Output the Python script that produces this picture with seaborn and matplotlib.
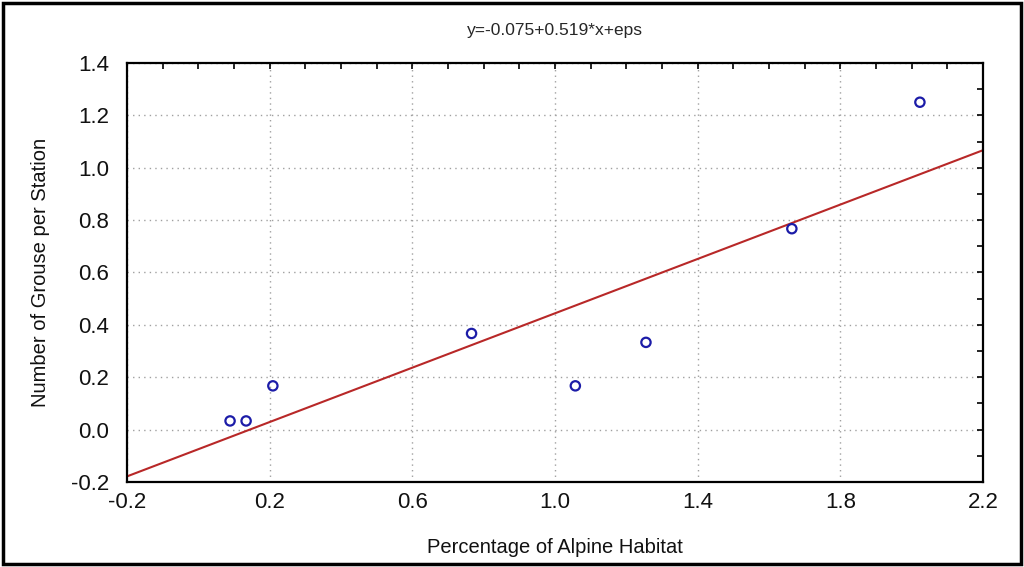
import numpy as np
import pandas as pd
import matplotlib
matplotlib.use("Agg")
import matplotlib.pyplot as plt
from matplotlib.ticker import MultipleLocator
from matplotlib.patches import Rectangle
import seaborn as sns

# Data
alpine_pct = [0.089, 0.134, 0.209, 0.766, 1.057, 1.255, 1.664, 2.023]
grouse_per_station = [0.033, 0.033, 0.167, 0.367, 0.167, 0.333, 0.767, 1.25]
intercept = -0.075
slope = 0.519
x_ticks = [-0.2, 0.2, 0.6, 1.0, 1.4, 1.8, 2.2]
y_ticks = [-0.2, 0.0, 0.2, 0.4, 0.6, 0.8, 1.0, 1.2, 1.4]
title = "y=-0.075+0.519*x+eps"
x_label = "Percentage of Alpine Habitat"
y_label = "Number of Grouse per Station"

sns.set_style("white")
plt.rcParams['font.family'] = ['Liberation Sans', 'DejaVu Sans']

df = pd.DataFrame({"x": alpine_pct, "y": grouse_per_station})
line_x = np.linspace(x_ticks[0], x_ticks[-1], 200)
line_df = pd.DataFrame({"x": line_x, "y": intercept + slope * line_x})

fig = plt.figure(figsize=(10.24, 5.67), dpi=100)
ax = fig.add_axes([0.124, 0.150, 0.836, 0.739])

sns.lineplot(data=line_df, x="x", y="y", ax=ax, color="#b82828", linewidth=1.5)
sns.scatterplot(data=df, x="x", y="y", ax=ax, marker="o", s=45,
                facecolor="none", edgecolor="#1c1ca8", linewidth=1.6, zorder=5)

ax.set_xlim(x_ticks[0], x_ticks[-1])
ax.set_ylim(y_ticks[0], y_ticks[-1])
ax.set_xticks(x_ticks)
ax.set_yticks(y_ticks)
ax.set_xticklabels([f"{v:.1f}" for v in x_ticks])
ax.set_yticklabels([f"{v:.1f}" for v in y_ticks])
ax.xaxis.set_minor_locator(MultipleLocator(0.1))
ax.yaxis.set_minor_locator(MultipleLocator(0.1))
ax.tick_params(which="both", direction="in", top=True, right=True,
               length=4, width=1.2, color="black")
ax.tick_params(which="major", labelsize=16, labelcolor="#111111")
ax.tick_params(axis="y", which="major", pad=13)
ax.tick_params(axis="x", which="major", pad=7)
ax.grid(True, which="major", linestyle=(0, (1, 3)), color="#a0a0a0", linewidth=1)
for s in ax.spines.values():
    s.set_visible(True)
    s.set_color("black")
    s.set_linewidth(1.6)

ax.set_xlabel(x_label, fontsize=14.5, labelpad=18, color="#111111")
ax.set_ylabel(y_label, fontsize=14.5, labelpad=15, color="#111111")
ax.set_title(title, fontsize=12.5, pad=20)

fig.patches.append(Rectangle((0.003, 0.005), 0.994, 0.99, transform=fig.transFigure,
                             fill=False, edgecolor="black", linewidth=2.5))

fig.savefig("out.png", dpi=100)
